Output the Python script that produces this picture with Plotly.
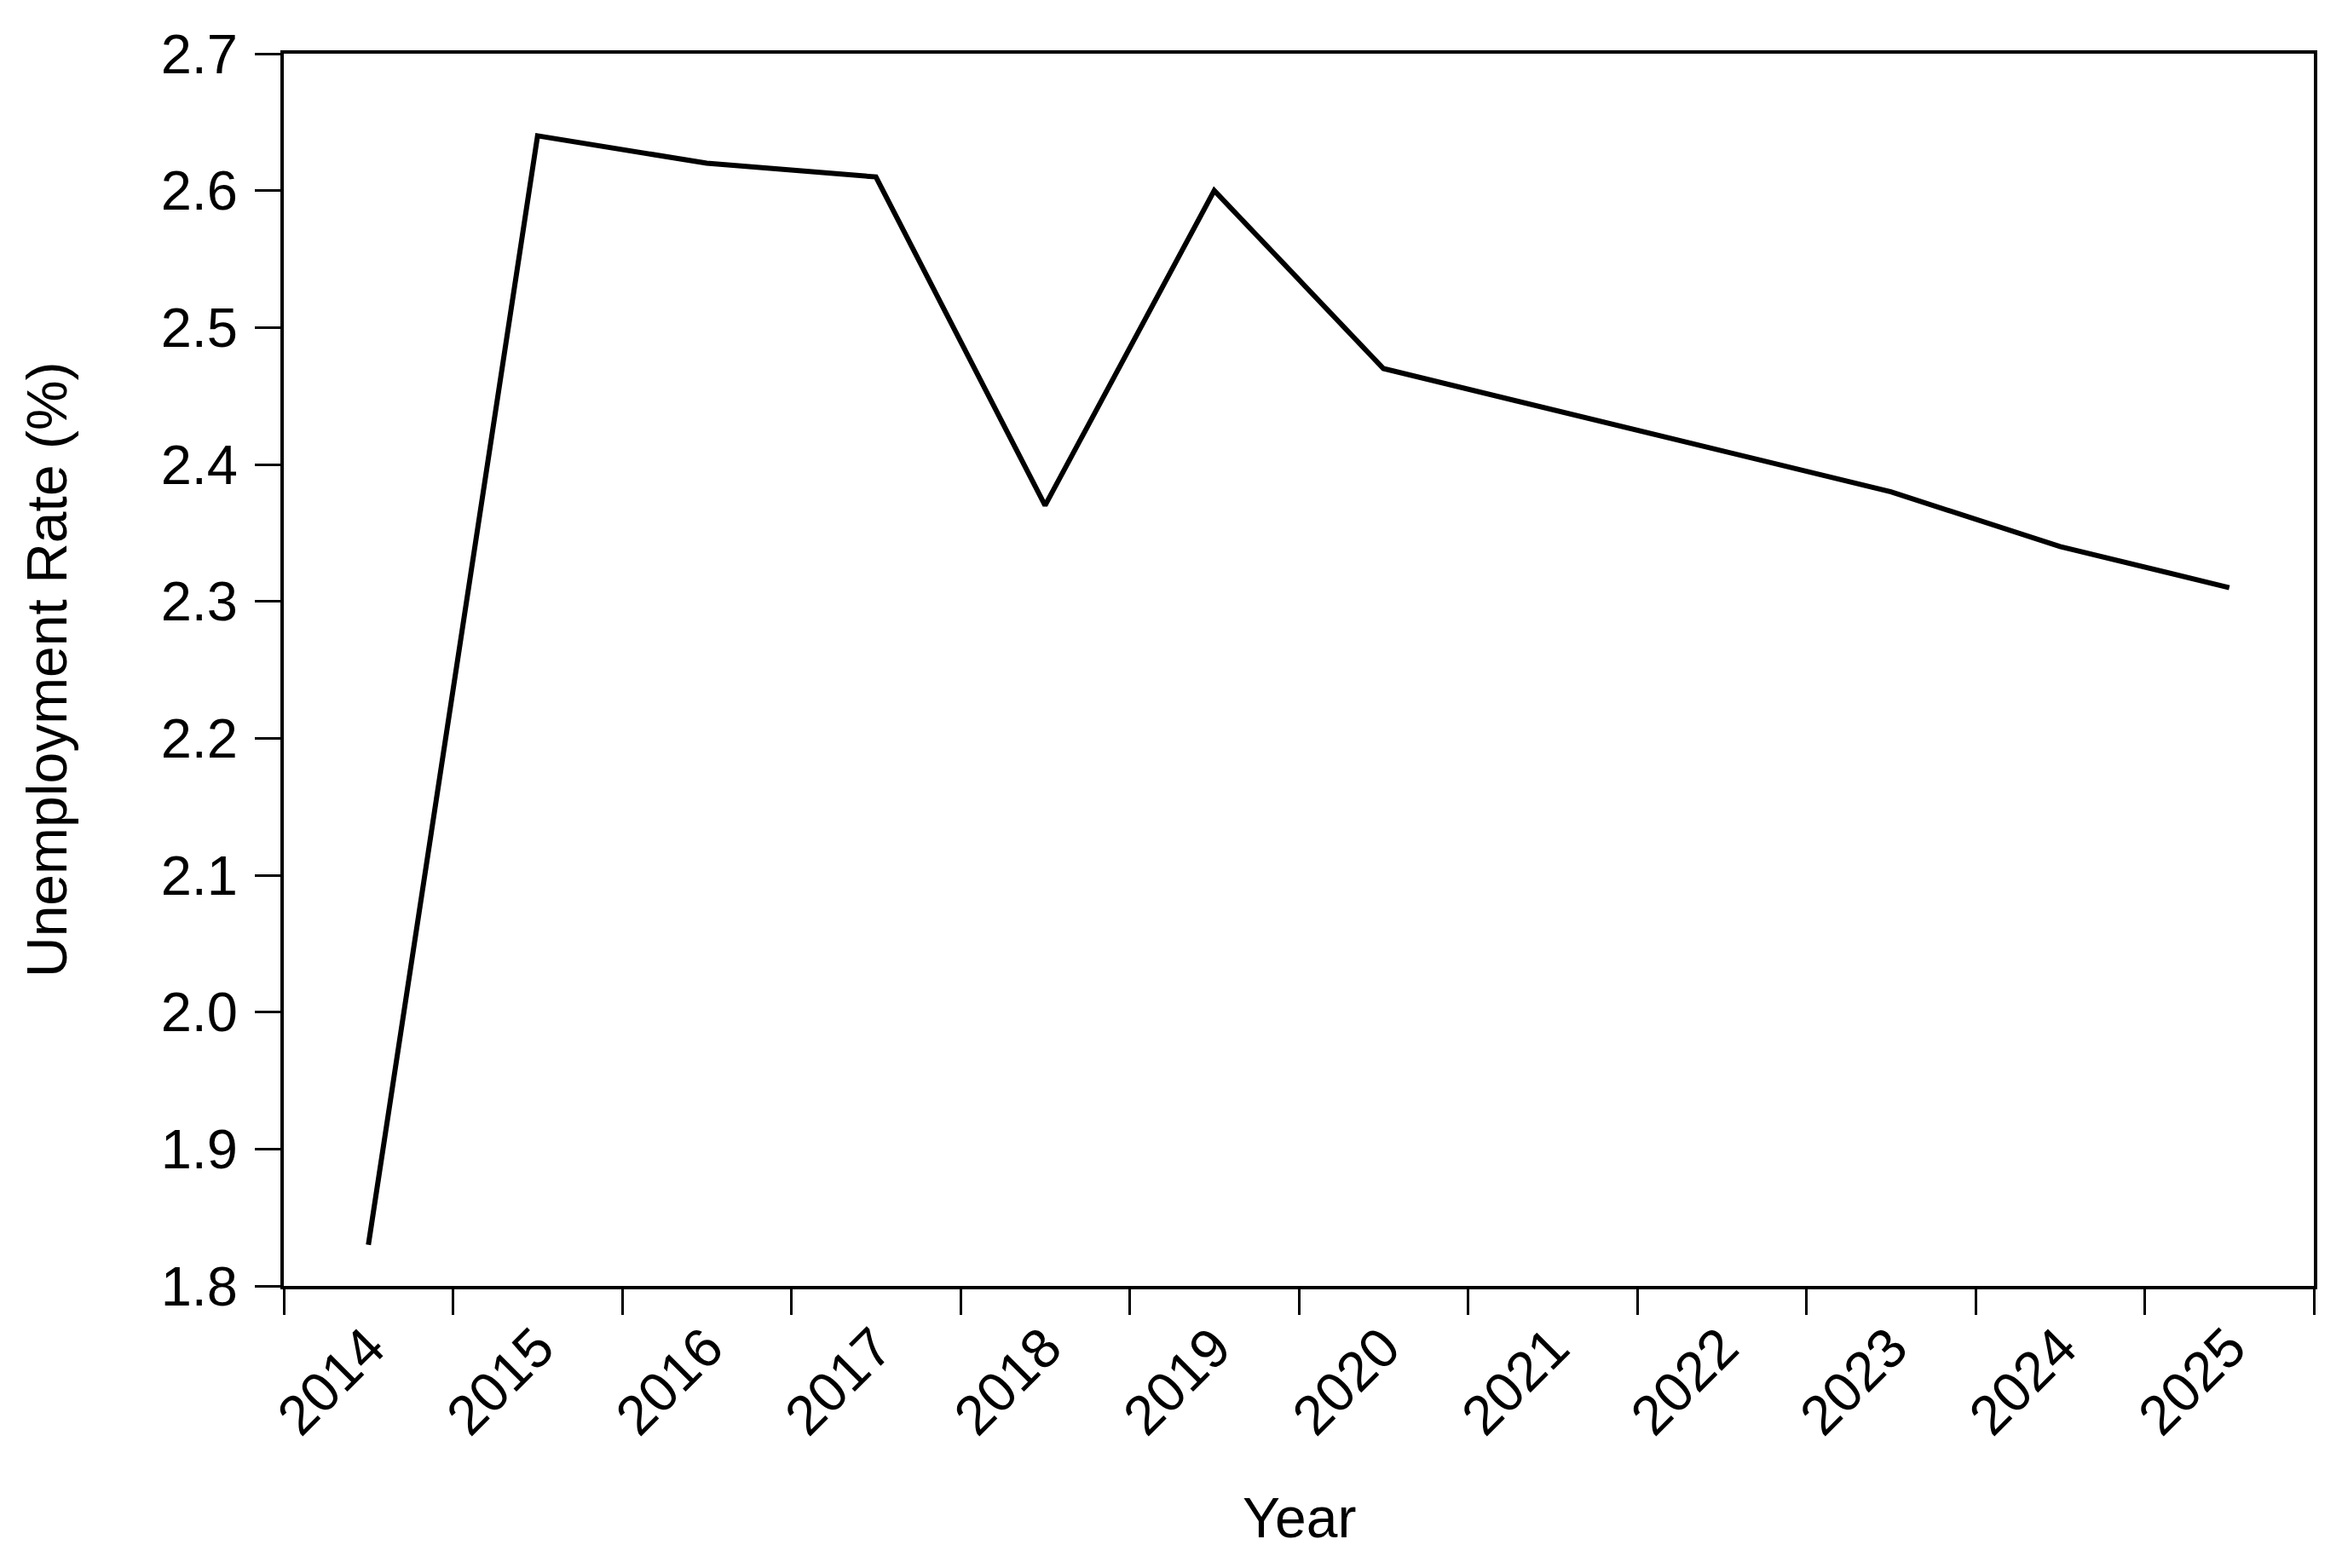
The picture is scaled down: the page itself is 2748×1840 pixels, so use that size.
import plotly.graph_objects as go

years = ["2014", "2015", "2016", "2017", "2018", "2019", "2020", "2021", "2022", "2023", "2024", "2025"]
unemployment = [1.83, 2.64, 2.62, 2.61, 2.37, 2.60, 2.47, 2.44, 2.41, 2.38, 2.34, 2.31]
y_ticks = [1.8, 1.9, 2.0, 2.1, 2.2, 2.3, 2.4, 2.5, 2.6, 2.7]

# the page body adds an 8 px offset; figure coordinates compensate for it
W, H = 2740, 1832
ML, MR, MT, MB = 325, 33, 55, 331
FONT = "Liberation Sans, Arial, sans-serif"
FS = 65

fig = go.Figure()
fig.add_trace(go.Scatter(
    x=years, y=unemployment, mode="lines",
    line=dict(color="black", width=6),
    showlegend=False, hoverinfo="skip",
))

fig.update_layout(
    width=W, height=H,
    margin=dict(l=ML, r=MR, t=MT, b=MB, autoexpand=False),
    paper_bgcolor="white", plot_bgcolor="white",
    font=dict(family=FONT, size=FS, color="black"),
    showlegend=False,
)

fig.update_xaxes(
    type="category",
    categoryorder="array", categoryarray=years,
    range=[-0.5, len(years) - 0.5],
    tickson="boundaries",
    ticks="outside", ticklen=30, tickwidth=3, tickcolor="black",
    tickangle=-45,
    ticklabelstandoff=4,
    tickfont=dict(family=FONT, size=FS, color="black"),
    showline=True, linewidth=4, linecolor="black", mirror=True,
    showgrid=False, zeroline=False,
    automargin=False,
)

fig.update_yaxes(
    range=[1.8, 2.7],
    tickvals=y_ticks,
    ticktext=[f"{v:.1f}" for v in y_ticks],
    ticks="outside", ticklen=30, tickwidth=3, tickcolor="black",
    ticklabelstandoff=7,
    tickfont=dict(family=FONT, size=FS, color="black"),
    showline=True, linewidth=4, linecolor="black", mirror=True,
    showgrid=False, zeroline=False,
    automargin=False,
)

plot_w = W - ML - MR
plot_h = H - MT - MB
plot_bottom = H - MB

fig.add_annotation(
    text="Year", xref="paper", yref="paper",
    x=0.5, y=(plot_bottom - 1773) / plot_h,
    xanchor="center", yanchor="middle", showarrow=False,
    font=dict(family=FONT, size=66, color="black"),
)
fig.add_annotation(
    text="Unemployment Rate (%)", xref="paper", yref="paper",
    x=(47 - ML) / plot_w, y=0.5, textangle=-90,
    xanchor="center", yanchor="middle", showarrow=False,
    font=dict(family=FONT, size=66, color="black"),
)

fig.write_html("out.html")
